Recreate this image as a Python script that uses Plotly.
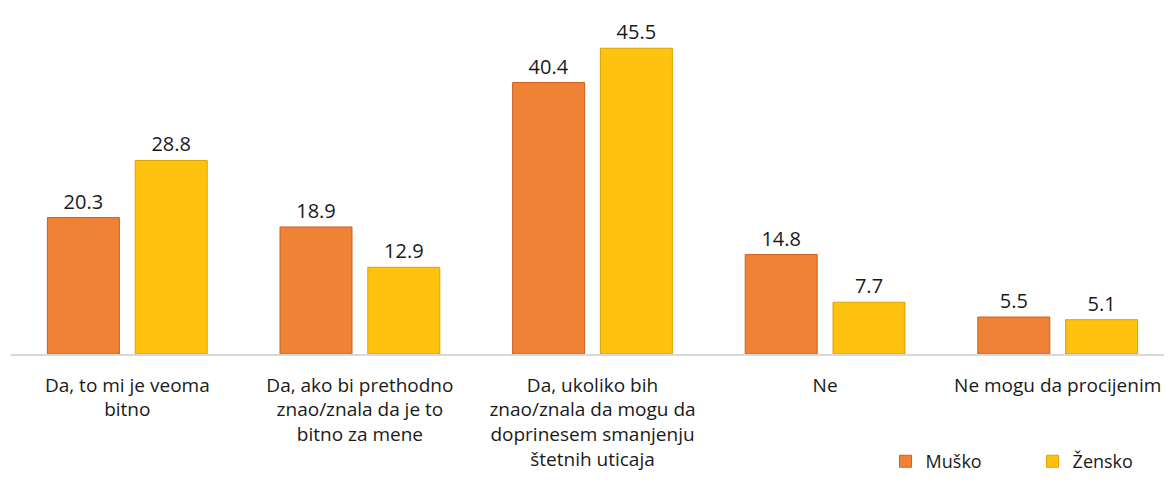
import plotly.graph_objects as go

categories = [
    "Da, to mi je veoma<br>bitno",
    "Da, ako bi prethodno<br>znao/znala da je to<br>bitno za mene",
    "Da, ukoliko bih<br>znao/znala da mogu da<br>doprinesem smanjenju<br>štetnih uticaja",
    "Ne",
    "Ne mogu da procijenim",
]
musko = [20.3, 18.9, 40.4, 14.8, 5.5]
zensko = [28.8, 12.9, 45.5, 7.7, 5.1]

FONT = "Open Sans"

fig = go.Figure()
fig.add_trace(go.Bar(
    name="Muško", x=categories, y=musko,
    marker=dict(color="#EF8236", line=dict(color="#C9621F", width=1)),
    text=[f"{v:.1f}" for v in musko], textposition="outside",
    textfont=dict(family=FONT, size=20, color="#1a1a1a"),
    cliponaxis=False,
))
fig.add_trace(go.Bar(
    name="Žensko", x=categories, y=zensko,
    marker=dict(color="#FFC20E", line=dict(color="#D9A300", width=1)),
    text=[f"{v:.1f}" for v in zensko], textposition="outside",
    textfont=dict(family=FONT, size=20, color="#1a1a1a"),
    cliponaxis=False,
))

fig.update_layout(
    width=1172, height=483,
    margin=dict(l=3, r=6, t=10, b=137, autoexpand=False),
    paper_bgcolor="white", plot_bgcolor="white",
    barmode="group", bargap=0.245, bargroupgap=0.18,
    font=dict(family=FONT, size=19, color="#1a1a1a"),
    showlegend=True,
    legend=dict(orientation="h", x=0.752, y=-0.265, xanchor="left", yanchor="top",
                font=dict(family=FONT, size=18), itemwidth=30,
                entrywidth=102, entrywidthmode="pixels",
                traceorder="normal"),
    xaxis=dict(showline=True, linecolor="#D9D9D9", linewidth=1.5,
               ticks="", tickangle=0, ticklabelstandoff=13, automargin=False,
               tickfont=dict(family=FONT, size=19)),
    yaxis=dict(range=[0, 50], visible=False, showgrid=False, zeroline=False,
               automargin=False),
)

fig.write_html("out.html")
